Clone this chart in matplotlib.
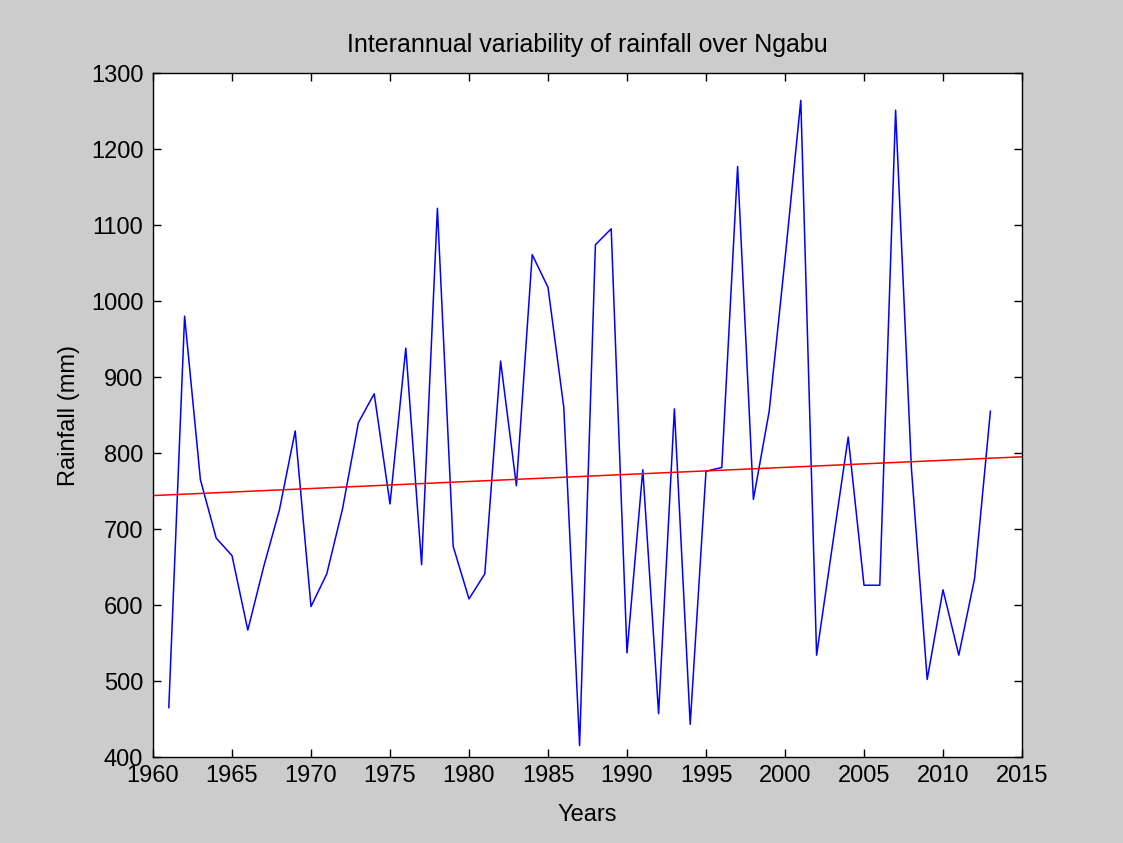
import matplotlib
matplotlib.use("Agg")
import matplotlib.pyplot as plt

# Annual rainfall totals for Ngabu (mm)
years = list(range(1961, 2014))
rainfall = [
    465, 980, 765, 688, 665, 567, 650, 725, 829, 598,
    641, 727, 840, 878, 733, 938, 653, 1122, 677, 608,
    641, 921, 757, 1061, 1018, 860, 415, 1074, 1095, 537,
    778, 457, 858, 443, 776, 781, 1177, 739, 855, 1055,
    1264, 534, 678, 821, 626, 626, 1251, 780, 502, 620,
    534, 635, 855,
]

# Linear trend line end points
trend_years = [1960, 2015]
trend_values = [744, 795]

x_ticks = list(range(1960, 2016, 5))
y_ticks = list(range(400, 1301, 100))


def plot_rainfall():
    """
    Plot interannual rainfall with its linear trend and save to out.png.
    """
    plt.rcParams["font.family"] = ["Liberation Sans", "DejaVu Sans"]

    fig = plt.figure(figsize=(11.23, 8.43), dpi=100, facecolor="#cccccc")
    ax = fig.add_axes([153 / 1123, 1 - 757 / 843, 869 / 1123, 684 / 843])
    ax.set_facecolor("white")

    ax.plot(years, rainfall, color="#0000ff", linewidth=1.1)
    ax.plot(trend_years, trend_values, color="#ff0000", linewidth=1.1)

    ax.set_xlim(1960, 2015)
    ax.set_ylim(400, 1300)
    ax.set_xticks(x_ticks)
    ax.set_yticks(y_ticks)

    ax.tick_params(direction="in", length=6, width=1, top=True, right=True,
                   labelsize=17, colors="black")
    ax.tick_params(axis="x", pad=6)
    ax.tick_params(axis="y", pad=7)
    for spine in ax.spines.values():
        spine.set_linewidth(1.0)
        spine.set_color("black")

    ax.set_title("Interannual variability of rainfall over Ngabu",
                 fontsize=18, pad=15)
    ax.set_xlabel("Years", fontsize=17, labelpad=12)
    ax.set_ylabel("Rainfall (mm)", fontsize=17, labelpad=8)

    fig.savefig("out.png", dpi=100, facecolor=fig.get_facecolor())


def main():
    plot_rainfall()


if __name__ == "__main__":
    main()
